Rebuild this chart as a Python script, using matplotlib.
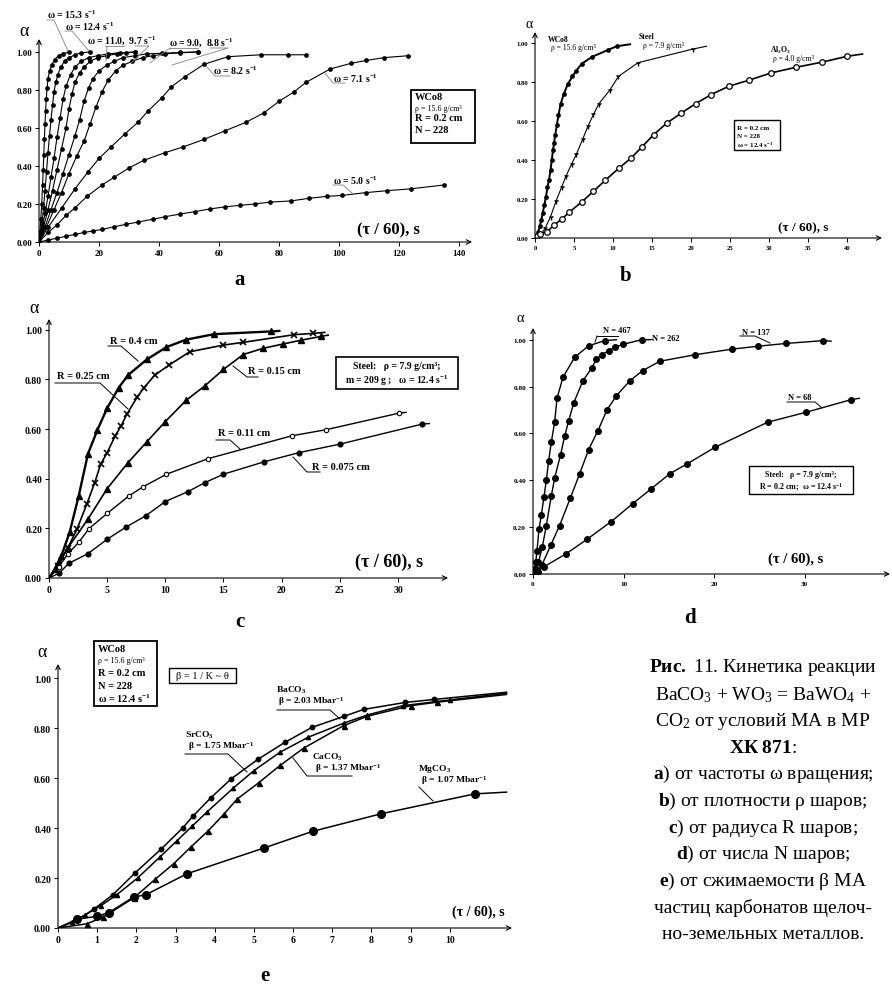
import matplotlib
matplotlib.use("Agg")
import matplotlib.pyplot as plt
from matplotlib.lines import Line2D
from matplotlib.patches import Rectangle

plt.rcParams['font.family'] = ['Liberation Serif', 'DejaVu Serif']
plt.rcParams['mathtext.fontset'] = 'custom'
plt.rcParams['mathtext.rm'] = 'Liberation Serif'
plt.rcParams['mathtext.bf'] = 'Liberation Serif:bold'
plt.rcParams['mathtext.it'] = 'Liberation Serif:italic'
plt.rcParams['mathtext.default'] = 'regular'

# ---- panel a: omega ----
a_t_153 = [0, 0.3, 0.6, 0.9, 1.2, 1.4, 1.6, 1.8, 2.0, 2.2, 2.4, 2.7, 3.0, 3.5, 4.2, 5.2, 6.5, 8.0, 10.0]
a_al_153 = [0, 0.05, 0.12, 0.2, 0.3, 0.38, 0.46, 0.54, 0.62, 0.69, 0.75, 0.81, 0.86, 0.9, 0.93, 0.96, 0.98, 0.99, 1.0]
a_t_124 = [0, 0.5, 1, 1.5, 2, 2.5, 3, 3.5, 4, 4.5, 5, 5.6, 6.3, 7.2, 8.5, 10, 12, 14, 17]
a_al_124 = [0, 0.04, 0.1, 0.18, 0.27, 0.37, 0.47, 0.56, 0.64, 0.72, 0.79, 0.84, 0.88, 0.92, 0.95, 0.97, 0.985, 0.995, 1.0]
a_t_110 = [0, 1, 2, 3, 4, 5, 6, 7, 8, 9, 10.5, 12, 14, 16.5, 19.5, 23, 27, 32]
a_al_110 = [0, 0.07, 0.15, 0.24, 0.34, 0.44, 0.55, 0.65, 0.75, 0.82, 0.88, 0.92, 0.95, 0.97, 0.98, 0.99, 0.995, 1.0]
a_t_97 = [0, 1.5, 3, 4.5, 6, 7.5, 9, 10, 11, 12, 13.5, 15, 17, 19.5, 22.5, 26, 29, 32]
a_al_97 = [0, 0.08, 0.17, 0.27, 0.38, 0.49, 0.6, 0.7, 0.78, 0.84, 0.89, 0.92, 0.95, 0.97, 0.98, 0.99, 0.995, 1.0]
a_t_90 = [0, 2, 4, 6, 8, 10, 12, 13.5, 15, 16.5, 18, 20, 22.5, 25, 28, 32, 36, 41, 47, 53]
a_al_90 = [0, 0.08, 0.17, 0.26, 0.36, 0.46, 0.56, 0.64, 0.74, 0.81, 0.86, 0.9, 0.93, 0.95, 0.97, 0.98, 0.99, 0.993, 0.997, 1.0]
a_t_88 = [0, 2.5, 5, 7.5, 10, 12.5, 15, 17, 19, 21, 23, 25.5, 28, 31, 34.5, 38, 42, 47, 53]
a_al_88 = [0, 0.08, 0.17, 0.26, 0.36, 0.45, 0.53, 0.62, 0.71, 0.79, 0.85, 0.9, 0.93, 0.95, 0.97, 0.98, 0.99, 0.995, 1.0]
a_t_82 = [0, 3, 7.6, 12, 16.4, 20, 24, 28.7, 33, 36.4, 41, 44, 48.7, 55, 63, 74, 83, 89]
a_al_82 = [0, 0.077, 0.18, 0.28, 0.37, 0.44, 0.5, 0.57, 0.63, 0.69, 0.76, 0.815, 0.87, 0.935, 0.975, 0.985, 0.985, 0.985]
a_t_71 = [0, 3, 6, 9, 12, 16, 21, 25, 30, 35, 42, 48, 55, 62, 69, 75, 80, 85, 89, 97, 104, 109, 115, 123]
a_al_71 = [0, 0.05, 0.09, 0.14, 0.18, 0.24, 0.30, 0.34, 0.39, 0.43, 0.47, 0.50, 0.54, 0.585, 0.63, 0.68, 0.74, 0.79, 0.84, 0.91, 0.94, 0.955, 0.97, 0.98]
a_t_50 = [0, 3, 6, 9, 12, 15, 18, 21, 25, 29, 33, 38, 42, 47, 52, 57, 62, 67, 72, 77, 84, 90, 96, 101, 109, 116, 124, 135]
a_al_50 = [0, 0.01, 0.02, 0.03, 0.04, 0.05, 0.058, 0.066, 0.08, 0.093, 0.105, 0.12, 0.133, 0.147, 0.16, 0.174, 0.185,
           0.193, 0.20, 0.21, 0.216, 0.23, 0.24, 0.245, 0.26, 0.27, 0.28, 0.30]

# ---- panel b: density ----
b_t_wco = [0, 0.2, 0.4, 0.6, 0.8, 1.0, 1.2, 1.4, 1.6, 1.8, 2.0, 2.15, 2.3, 2.45, 2.6, 2.8, 3.0, 3.3, 3.7, 4.2, 4.8,
           5.3, 6.0, 7.3, 9.3, 10.5, 12.2]
b_al_wco = [0, 0.01, 0.03, 0.06, 0.09, 0.13, 0.17, 0.21, 0.26, 0.3, 0.35, 0.4, 0.45, 0.49, 0.53, 0.58, 0.63, 0.69,
            0.74, 0.79, 0.83, 0.86, 0.895, 0.93, 0.965, 0.985, 0.995]
b_t_steel = [0, 0.8, 1.3, 2.0, 2.7, 3.4, 4.0, 4.7, 5.3, 6.1, 6.8, 7.5, 8.2, 9.6, 10.7, 13.2, 20.2, 22]
b_al_steel = [0, 0.02, 0.05, 0.11, 0.19, 0.26, 0.32, 0.38, 0.43, 0.506, 0.575, 0.635, 0.69, 0.76, 0.83, 0.90, 0.97, 0.985]
b_t_al2o3 = [0, 0.3, 0.64, 1.5, 2.4, 3.4, 4.4, 6.0, 7.5, 9.0, 10.8, 12.3, 13.7, 15.2, 16.9, 18.7, 20.6, 22.6, 24.9,
             27.4, 30.3, 33.5, 36.8, 40.0, 42.0]
b_al_al2o3 = [0, 0.01, 0.022, 0.03, 0.065, 0.096, 0.133, 0.185, 0.24, 0.296, 0.36, 0.41, 0.467, 0.53, 0.59, 0.64,
              0.69, 0.737, 0.78, 0.81, 0.848, 0.877, 0.903, 0.933, 0.945]

# ---- panel c: radius ----
c_t_040 = [0, 0.5, 1.06, 1.78, 2.55, 3.35, 4.15, 5.0, 6.0, 6.8, 8.4, 10.1, 11.8, 14.2, 19.1, 19.8]
c_al_040 = [0, 0.035, 0.089, 0.185, 0.33, 0.50, 0.595, 0.684, 0.767, 0.817, 0.88, 0.93, 0.96, 0.982, 0.993, 0.995]
c_t_025 = [0, 0.8, 1.6, 2.4, 3.27, 3.93, 4.44, 5.0, 5.7, 6.2, 6.7, 7.6, 8.14, 9.1, 10.3, 12.1, 15.0, 16.7, 21.1, 22.7, 23.7]
c_al_025 = [0, 0.05, 0.12, 0.196, 0.30, 0.384, 0.458, 0.505, 0.573, 0.613, 0.66, 0.73, 0.765, 0.817, 0.857, 0.911,
            0.938, 0.949, 0.98, 0.985, 0.989]
c_t_015 = [0, 0.8, 1.63, 3.35, 5.0, 6.8, 8.4, 10.0, 11.8, 13.4, 15.0, 16.7, 18.4, 20.1, 21.7, 23.4, 24.0]
c_al_015 = [0, 0.06, 0.122, 0.237, 0.36, 0.465, 0.548, 0.63, 0.716, 0.774, 0.84, 0.90, 0.925, 0.942, 0.958, 0.973, 0.978]
c_t_011 = [0, 0.86, 1.63, 2.58, 3.44, 5.0, 6.85, 8.08, 10.1, 13.7, 20.9, 23.8, 30.1, 30.7]
c_al_011 = [0, 0.046, 0.098, 0.145, 0.199, 0.26, 0.33, 0.367, 0.418, 0.481, 0.573, 0.597, 0.664, 0.667]
c_t_0075 = [0, 0.86, 1.7, 3.35, 5.0, 6.65, 8.3, 10.0, 11.95, 13.4, 15.0, 18.5, 21.5, 25.0, 32.1, 32.7]
c_al_0075 = [0, 0.019, 0.059, 0.098, 0.156, 0.206, 0.25, 0.308, 0.348, 0.384, 0.418, 0.468, 0.505, 0.539, 0.62, 0.622]

# ---- panel d: number of balls ----
d_t_467 = [0, 0.15, 0.3, 0.44, 0.66, 0.92, 1.21, 1.47, 1.73, 2.02, 2.39, 2.65, 3.31, 4.6, 6.14, 7.9, 9.2]
d_al_467 = [0, 0.02, 0.05, 0.10, 0.19, 0.253, 0.328, 0.40, 0.484, 0.5625, 0.648, 0.75, 0.84, 0.925, 0.974, 0.996, 1.0]
d_t_262 = [0, 0.3, 0.6, 1.03, 1.47, 2.02, 2.39, 3.05, 3.5, 3.93, 4.49, 5.51, 6.5, 7.0, 7.6, 8.35, 9.0, 9.9, 12.0, 12.9]
d_al_262 = [0, 0.02, 0.05, 0.115, 0.207, 0.333, 0.41, 0.51, 0.59, 0.652, 0.73, 0.825, 0.88, 0.918, 0.936, 0.953,
            0.967, 0.98, 1.0, 1.0]
d_t_137 = [0, 0.5, 1.0, 1.95, 2.94, 4.12, 5.15, 6.14, 7.17, 8.16, 9.2, 10.7, 12.1, 14.0, 17.9, 22.0, 24.8, 27.9, 32.0, 32.9]
d_al_137 = [0, 0.01, 0.04, 0.122, 0.207, 0.324, 0.428, 0.531, 0.612, 0.70, 0.761, 0.825, 0.868, 0.908, 0.936, 0.96,
            0.972, 0.984, 0.996, 0.994]
d_t_68 = [0, 1.18, 3.68, 5.96, 8.64, 11.0, 13.05, 15.1, 17.0, 20.1, 25.9, 30.1, 35.1, 36.0]
d_al_68 = [0, 0.03, 0.087, 0.148, 0.224, 0.30, 0.364, 0.428, 0.47, 0.541, 0.648, 0.69, 0.744, 0.75]

# ---- panel e: compressibility ----
e_t_ba = [0, 0.48, 0.91, 1.4, 1.97, 2.64, 3.18, 3.44, 3.9, 4.42, 5.1, 5.8, 6.48, 7.31, 7.8, 8.86, 9.6, 11.45]
e_al_ba = [0, 0.031, 0.075, 0.133, 0.221, 0.317, 0.40, 0.447, 0.521, 0.597, 0.675, 0.744, 0.803, 0.848, 0.875,
           0.903, 0.915, 0.944]
e_t_sr = [0, 0.36, 0.7, 1.1, 1.5, 2.03, 2.6, 3.04, 3.42, 3.8, 4.48, 5.0, 5.67, 6.39, 7.29, 7.9, 8.8, 10.0, 11.45]
e_al_sr = [0, 0.024, 0.053, 0.09, 0.133, 0.2, 0.284, 0.35, 0.407, 0.464, 0.561, 0.63, 0.704, 0.764, 0.82, 0.853,
           0.89, 0.913, 0.94]
e_t_ca = [0, 0.74, 1.16, 1.93, 2.48, 2.95, 3.39, 3.84, 4.23, 4.58, 5.12, 5.67, 6.27, 7.29, 7.9, 9.0, 9.67, 11.45]
e_al_ca = [0, 0.017, 0.044, 0.12, 0.195, 0.257, 0.324, 0.39, 0.455, 0.517, 0.581, 0.651, 0.72, 0.81, 0.848, 0.89,
           0.904, 0.935]
e_t_mg = [0, 0.48, 1.0, 1.29, 1.93, 2.24, 3.29, 5.25, 6.5, 8.24, 10.64, 11.45]
e_al_mg = [0, 0.035, 0.047, 0.061, 0.124, 0.133, 0.217, 0.32, 0.387, 0.457, 0.537, 0.544]

alpha_ticks = [0.0, 0.2, 0.4, 0.6, 0.8, 1.0]
alpha_labels = ['0.00', '0.20', '0.40', '0.60', '0.80', '1.00']

W, H = 892, 987
fig = plt.figure(figsize=(W / 100, H / 100), dpi=100)


def make_axes(x0, x1, ytop, ybot, xmax, ymax, xticks, fs):
    ax = fig.add_axes([x0 / W, 1 - ybot / H, (x1 - x0) / W, (ybot - ytop) / H])
    ax.set_xlim(0, xmax)
    ax.set_ylim(0, ymax)
    ax.patch.set_alpha(0)
    for s in ax.spines.values():
        s.set_visible(False)
    arr = dict(arrowstyle='->', lw=0.8, color='black', shrinkA=0, shrinkB=0, mutation_scale=8)
    ax.annotate('', xy=(1, 0), xytext=(0, 0), xycoords='axes fraction', arrowprops=arr)
    ax.annotate('', xy=(0, 1), xytext=(0, 0), xycoords='axes fraction', arrowprops=arr)
    ax.set_xticks(xticks)
    ax.set_xticklabels([str(v) for v in xticks])
    ax.set_yticks(alpha_ticks)
    ax.set_yticklabels(alpha_labels)
    ax.tick_params(direction='out', length=3, width=0.7, labelsize=fs, pad=2)
    for lab in ax.get_xticklabels() + ax.get_yticklabels():
        lab.set_fontweight('bold')
    return ax


def curve(ax, t, al, first=1, **kw):
    # line runs past the last measured marker, as in the original drawing
    ax.plot(t, al, color='black', markevery=list(range(first, len(t) - 1)), **kw)


def T(x, y, s, size, weight='bold', ha='left', va='center'):
    fig.text(x / W, 1 - y / H, s, fontsize=size, fontweight=weight, ha=ha, va=va)


def leader(pts, color='0.5', lw=0.6):
    fig.add_artist(Line2D([p[0] / W for p in pts], [1 - p[1] / H for p in pts], color=color, lw=lw))


def box(x0, y0, x1, y1, lw=1.0):
    fig.add_artist(Rectangle((x0 / W, 1 - y1 / H), (x1 - x0) / W, (y1 - y0) / H, fill=False,
                             lw=lw, ec='black', transform=fig.transFigure))


# ================= a =================
ax = make_axes(39, 472, 40, 243, 144.3, 1.068, list(range(0, 141, 20)), 6.5)
for t, al in [(a_t_153, a_al_153), (a_t_124, a_al_124), (a_t_110, a_al_110), (a_t_97, a_al_97),
              (a_t_90, a_al_90), (a_t_88, a_al_88), (a_t_82, a_al_82), (a_t_71, a_al_71), (a_t_50, a_al_50)]:
    ax.plot(t, al, '-o', color='black', lw=0.8, ms=2.4)
T(24, 31, 'α', 13, weight='normal', ha='center')
T(47, 15, 'ω = 15.3 s$^{-1}$', 7)
T(65, 27, 'ω = 12.4 s$^{-1}$', 7)
T(87, 41, 'ω = 11.0,  9.7 s$^{-1}$', 7)
T(169, 43, 'ω = 9.0,  8.8 s$^{-1}$', 7)
T(213, 71, 'ω = 8.2 s$^{-1}$', 7)
T(333, 79, 'ω = 7.1 s$^{-1}$', 7)
T(333, 181, 'ω = 5.0 s$^{-1}$', 7)
leader([(47, 21), (54, 21), (68, 52)])
leader([(65, 32), (72, 32), (89, 52)])
leader([(105, 47), (124, 47)])
leader([(107, 47), (106, 62)])
leader([(135, 47), (149, 47), (131, 64)])
leader([(170, 49), (198, 49)])
leader([(170, 49), (150, 64)])
leader([(210, 49), (228, 49), (172, 66)])
leader([(230, 77), (215, 77), (206, 67)])
leader([(345, 84), (333, 84), (325, 74)])
leader([(333, 186), (343, 186), (352, 194)])
box(411, 91, 475, 144, lw=1.3)
T(415, 98, 'WCo8', 7.5)
T(415, 109, 'ρ = 15.6 g/cm³', 5.8, weight='normal')
T(415, 119, 'R = 0.2 cm', 7.5)
T(415, 131, 'N – 228', 7.5)
T(357, 230, '(τ / 60), s', 12)
T(240, 280, 'a', 15, ha='center')

# ================= b =================
ax = make_axes(535, 882, 33, 239, 44.5, 1.058, list(range(0, 41, 5)), 4.8)
curve(ax, b_t_wco, b_al_wco, lw=1.4, marker='o', ms=2.4)
curve(ax, b_t_steel, b_al_steel, lw=0.8, marker='1', ms=4, mew=1.0)
curve(ax, b_t_al2o3, b_al_al2o3, lw=1.2, marker='o', ms=4, mfc='white', mew=0.9)
T(529, 25, 'α', 10, weight='normal', ha='center')
T(548, 40, 'WCo8', 5.5)
T(551, 48.5, 'ρ = 15.6 g/cm³', 5.5, weight='normal')
T(639, 37, 'Steel', 5.5)
T(643, 45.5, 'ρ = 7.9 g/cm³', 5.5, weight='normal')
T(770, 50, 'Al$_2$O$_3$', 5.5)
T(773, 59, 'ρ = 4.0 g/cm³', 5.5, weight='normal')
box(734, 121, 780, 151, lw=1.0)
T(737, 128, 'R = 0.2 cm', 5)
T(737, 136.5, 'N = 228', 5)
T(737, 145, 'ω = 12.4 s$^{-1}$', 5)
T(778, 228, '(τ / 60), s', 9.5)
T(626, 276, 'b', 15, ha='center')

# ================= c =================
ax = make_axes(49, 448, 320, 579, 34.3, 1.043, list(range(0, 31, 5)), 7)
curve(ax, c_t_040, c_al_040, lw=1.7, marker='^', ms=5)
curve(ax, c_t_025, c_al_025, lw=1.2, marker='x', ms=4, mew=1.2)
curve(ax, c_t_015, c_al_015, lw=1.2, marker='^', ms=4.5)
curve(ax, c_t_011, c_al_011, lw=1.0, marker='o', ms=3.2, mfc='white', mew=0.8)
curve(ax, c_t_0075, c_al_0075, lw=1.0, marker='o', ms=3.4)
T(34, 309, 'α', 13, weight='normal', ha='center')
T(110, 341, 'R = 0.4 cm', 7.5)
leader([(108, 347), (121, 347), (138, 362)], color='black', lw=0.7)
T(57, 377, 'R = 0.25 cm', 7.5)
leader([(55, 384), (100, 384), (128, 410)], color='black', lw=0.7)
T(248, 371, 'R = 0.15 cm', 7.5)
leader([(258, 378), (247, 378), (233, 367)], color='black', lw=0.7)
T(218, 434, 'R = 0.11 cm', 7.5)
leader([(216, 441), (230, 441), (240, 450)], color='black', lw=0.7)
T(312, 467, 'R = 0.075 cm', 7.5)
leader([(320, 473), (307, 473), (293, 458)], color='black', lw=0.7)
box(336, 358, 458, 390, lw=1.2)
T(397, 367, 'Steel:   ρ = 7.9 g/cm³;', 7, ha='center')
T(397, 381, 'm = 209 g ;   ω = 12.4 s$^{-1}$', 7, ha='center')
T(355, 562, '(τ / 60), s', 13)
T(240, 622, 'c', 15, ha='center')

# ================= d =================
ax = make_axes(533, 890, 329, 575, 39.4, 1.05, [0, 10, 20, 30], 5.2)
for t, al in [(d_t_467, d_al_467), (d_t_262, d_al_262), (d_t_137, d_al_137), (d_t_68, d_al_68)]:
    curve(ax, t, al, first=0, lw=1.0, marker='o', ms=4)
T(520, 319, 'α', 10.5, weight='normal', ha='center')
T(603, 331, 'N = 467', 6)
leader([(597, 337), (618, 337)], color='black', lw=0.7)
leader([(597, 337), (595, 343)], color='black', lw=0.7)
T(652, 339, 'N = 262', 6)
leader([(642, 340), (652, 340)], color='black', lw=0.7)
T(742, 333, 'N = 137', 6)
leader([(740, 337), (755, 337), (770, 344)], color='black', lw=0.7)
T(788, 398, 'N = 68', 6)
leader([(787, 403), (815, 403), (822, 409)], color='black', lw=0.7)
box(749, 467, 853, 495, lw=1.0)
T(801, 475, 'Steel:   ρ = 7.9 g/cm³;', 5.8, ha='center')
T(801, 487, 'R = 0.2 cm;  ω = 12.4 s$^{-1}$', 5.8, ha='center')
T(768, 559, '(τ / 60), s', 10.5)
T(690, 618, 'd', 15, ha='center')

# ================= e =================
ax = make_axes(58, 512, 665, 929, 11.59, 1.057, list(range(0, 11)), 7)
curve(ax, e_t_ba, e_al_ba, lw=1.1, marker='o', ms=3.2)
curve(ax, e_t_sr, e_al_sr, lw=1.1, marker='^', ms=3)
curve(ax, e_t_ca, e_al_ca, lw=1.1, marker='^', ms=3.6)
curve(ax, e_t_mg, e_al_mg, lw=1.1, marker='o', ms=5.5)
T(42, 653, 'α', 13, weight='normal', ha='center')
box(94, 642, 157, 707, lw=1.3)
T(98, 650, 'WCo8', 7.5)
T(98, 661, 'ρ = 15.6 g/cm³', 5.8, weight='normal')
T(98, 674, 'R = 0.2 cm', 7.5)
T(98, 687, 'N = 228', 7.5)
T(98, 699, 'ω = 12.4 s$^{-1}$', 7.5)
box(169, 669, 236, 684, lw=1.0)
T(202.5, 676.5, 'β = 1 / K ~ θ', 7.5, weight='normal', ha='center')
T(276, 690, 'BaCO$_3$', 6.8)
T(278, 702, 'β = 2.03 Mbar$^{-1}$', 6.8)
leader([(277, 711), (330, 711), (340, 720)], color='black', lw=0.7)
T(185, 735, 'SrCO$_3$', 6.8)
T(188, 747, 'β = 1.75 Mbar$^{-1}$', 6.8)
leader([(185, 755), (228, 755), (247, 773)], color='black', lw=0.7)
T(312, 757, 'CaCO$_3$', 6.8)
T(315, 769, 'β = 1.37 Mbar$^{-1}$', 6.8)
leader([(352, 777), (307, 777), (293, 759)], color='black', lw=0.7)
T(418, 769, 'MgCO$_3$', 6.8)
T(421, 781, 'β = 1.07 Mbar$^{-1}$', 6.8)
leader([(419, 788), (433, 802)], color='black', lw=0.7)
T(452, 912, '(τ / 60), s', 10)
T(265, 976, 'e', 15, ha='center')

# ================= caption =================
cap_x = 763
cap_lines = [
    r'$\mathbf{Рис.}$ 11. Кинетика реакции',
    r'BaCO$_3$ + WO$_3$ = BaWO$_4$ +',
    r'CO$_2$ от условий МА в МР',
    r'$\mathbf{ХК\ 871}$:',
    r'$\mathbf{a}$) от частоты ω вращения;',
    r'$\mathbf{b}$) от плотности ρ шаров;',
    r'$\mathbf{c}$) от радиуса R шаров;',
    r'$\mathbf{d}$) от числа N шаров;',
    r'$\mathbf{e}$) от сжимаемости β МА',
    'частиц карбонатов щелоч-',
    'но-земельных металлов.',
]
for i, line in enumerate(cap_lines):
    T(cap_x, 668 + i * 26.7, line, 14, weight='normal', ha='center')

fig.savefig('out.png', dpi=100)
